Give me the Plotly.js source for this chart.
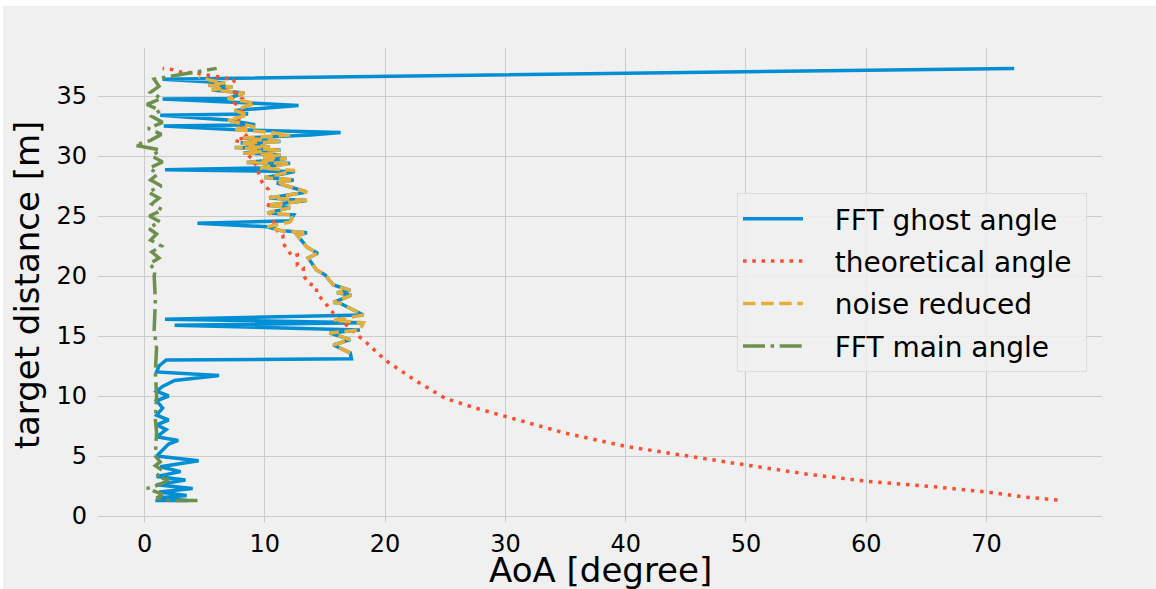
<!DOCTYPE html>
<html>
<head>
<meta charset="utf-8">
<script src="https://cdn.plot.ly/plotly-3.0.1.min.js"></script>
<style>html,body{margin:0;padding:0;background:#f0f0f0;}#chart{width:1156px;height:589px;}</style>
</head>
<body>
<div id="chart"></div>
<script>
// FFT ghost angle (distance [m], angle [deg])
const ghostDist = [1.3,1.3,1.5,1.7,2.0,2.3,2.6,3.0,3.3,3.7,4.1,4.6,5.0,5.5,6.0,6.3,6.6,7.2,7.6,8.0,8.4,9.0,9.6,10.0,10.4,10.8,11.3,11.7,12.0,12.5,13.0,13.1,
  13.6,14.25,14.7,15.25,15.5,15.9,16.1,16.4,16.75,17.75,17.8,18.4,18.6,18.8,19.25,20.1,20.5,21.5,21.9,22.4,23.4,23.6,23.8,24.1,24.4,24.6,25.1,25.25,25.7,25.9,26.3,26.5,27.0,27.75,28.0,28.2,28.7,28.85,29.0,29.4,29.45,29.8,29.9,30.1,30.25,30.5,30.7,30.75,31.1,31.2,31.5,31.75,31.95,32.2,32.5,32.6,33.0,33.4,33.5,33.8,34.2,34.4,34.75,34.8,35.25,35.5,35.75,35.9,36.1,36.4,37.3];
const ghostAngle = [0.9,3.6,1.0,3.5,1.2,4.0,1.0,3.4,1.0,3.0,1.3,4.5,1.0,1.5,2.0,2.8,1.0,1.8,1.0,2.0,1.0,1.5,1.0,2.0,1.0,1.5,2.5,6.2,1.0,1.2,1.8,17.2,
  17.1,15.7,17.1,15.4,17.9,2.5,18.2,1.7,18.2,16.2,15.7,17.2,16.0,17.1,15.7,15.0,14.3,13.6,14.4,13.5,12.7,13.5,11.3,10.2,4.4,12.1,12.4,10.2,12.1,10.2,13.5,10.4,13.5,11.0,12.4,10.0,12.5,1.7,9.6,12.1,8.5,11.8,9.9,11.3,8.2,11.3,7.5,10.4,8.0,11.3,8.2,13.8,16.3,7.3,1.6,9.2,6.9,1.3,8.6,7.5,12.8,9.2,1.5,6.9,8.3,5.6,7.3,5.3,6.7,1.5,72.3];

// theoretical angle
const theoDist = [1.33,1.6,2.0,2.4,2.9,3.5,4.25,5.0,5.8,6.9,8.25,9.0,9.8,11.3,13.0,14.0,14.4,14.9,15.9,16.9,17.4,18.0,18.6,19.1,19.4,20.1,20.7,20.9,21.75,21.6,22.2,22.75,23.4,23.6,24.9,25.75,26.3,26.75,27.2,27.75,28.8,29.4,29.7,30.1,30.9,31.3,31.6,31.9,32.4,33.0,33.6,34.1,34.4,34.8,35.1,35.3,35.7,36.3,36.5,36.6,36.75,36.9,37.0,37.2,37.3];
const theoAngle = [75.9,73,70,66,60,55,50,45,40,35,30,27.5,25,22.5,20,19,18.5,17.9,16.8,15.7,15.3,14.8,14.3,14.3,13.6,13.2,13.2,12.7,12.7,12.3,11.9,11.5,11.5,11.1,10.6,10.2,10.6,10.4,10.3,9.8,9.4,9.2,9.0,8.6,8.9,7.5,8.6,8.2,8.1,7.8,8.1,7.9,7.5,8.1,7.7,7.5,6.9,7.5,6.7,5.9,5.2,4.4,3.0,2.3,1.5];

// noise reduced
const noiseDist = [13.6,14.25,14.7,15.25,15.5,16.1,16.3,16.75,17.75,17.8,18.4,18.6,18.8,19.25,20.1,20.5,21.5,21.9,22.4,23.4,23.6,23.8,24.1,24.5,25.1,25.25,25.7,25.9,26.3,26.5,27.0,27.75,28.0,28.2,28.8,29.0,29.4,29.45,29.8,29.9,30.1,30.25,30.5,30.7,30.75,31.1,31.2,31.5,31.75,32.0,32.2,32.4,33.0,33.4,33.8,34.4,34.8,35.25,35.5,35.75,35.9,36.1,36.3,36.6];
const noiseAngle = [17.1,15.7,17.1,15.4,17.9,18.2,15.7,18.2,16.2,15.7,17.2,16.0,17.1,15.7,15.0,14.3,13.6,14.4,13.5,12.7,13.5,11.3,10.2,12.1,12.4,10.2,12.1,10.2,13.5,10.4,13.5,11.0,12.4,10.0,12.5,9.6,12.1,8.5,11.8,9.9,11.3,8.2,11.3,7.5,10.4,8.0,11.3,8.2,12.1,10.2,7.3,9.2,6.9,8.6,7.5,9.2,6.9,8.3,5.6,7.3,5.3,6.7,5.5,4.5];

// FFT main angle
const mainDist = [1.3,1.3,1.5,1.8,2.3,2.6,3.0,3.3,3.8,4.2,4.5,5.0,7.0,8.0,10.0,12.0,14.0,15.5,18.0,20.0,20.5,21.0,21.5,22.0,22.5,23.0,23.5,24.0,24.5,25.0,25.5,26.0,26.5,27.0,27.5,28.0,28.5,29.0,29.5,30.0,30.5,30.9,31.3,31.8,32.3,32.8,33.3,33.8,34.3,34.8,35.3,35.8,36.4,37.3];
const mainAngle = [4.4,2.0,1.0,1.5,0.2,1.2,2.0,1.0,1.5,0.9,1.3,0.9,1.0,0.9,1.0,0.9,1.0,0.8,0.9,0.8,0.9,0.4,1.2,0.6,1.4,0.5,1.0,0.3,1.3,0.4,1.5,0.6,1.2,0.3,1.4,0.5,1.1,0.4,1.5,0.6,1.3,-0.8,0.5,1.4,0.3,1.5,0.6,1.3,0.2,1.4,0.5,1.2,0.8,6.0];

const seriesNames = ['FFT ghost angle', 'theoretical angle', 'noise reduced', 'FFT main angle'];
const xTitle = 'AoA [degree]';
const yTitle = 'target distance [m]';

const font = 'DejaVu Sans, sans-serif';
const lw = 3.5;
const pad = '\u00a0\u00a0\u00a0';
const tail = '\u00a0';
const traces = [
  {x: ghostAngle, y: ghostDist, name: pad + seriesNames[0] + tail, legendgroup: 'a', mode: 'lines', line: {color: '#008fd5', width: lw}},
  {x: theoAngle, y: theoDist, name: pad + seriesNames[1] + tail, legendgroup: 'b', mode: 'lines', line: {color: '#fc4f30', width: lw, dash: '3.5px,5.8px'}},
  {x: noiseAngle, y: noiseDist, name: pad + seriesNames[2] + tail, legendgroup: 'c', mode: 'lines', line: {color: '#e5ae38', width: lw, dash: '12.5px,5.6px'}},
  {x: mainAngle, y: mainDist, name: pad + seriesNames[3] + tail, legendgroup: 'd', mode: 'lines', line: {color: '#6d904f', width: lw, dash: '22px,5.6px,3.5px,5.6px'}}
];

const L = 98, R = 1102, T = 48, B = 522;
const W = R - L, H = B - T;
const layout = {
  width: 1156, height: 589,
  margin: {l: L, r: 1156 - R, t: T, b: 589 - B},
  paper_bgcolor: '#f0f0f0', plot_bgcolor: '#f0f0f0',
  font: {family: font, color: '#000'},
  showlegend: true,
  xaxis: {
    range: [-3.87, 79.6], tickvals: [0,10,20,30,40,50,60,70], ticks: '',
    showgrid: true, gridcolor: '#cbcbcb', gridwidth: 1, zeroline: false, showline: false,
    tickfont: {family: font, size: 24, color: '#000'}, ticklabelstandoff: 5,
    automargin: false
  },
  yaxis: {
    range: [-0.5, 39.0], tickvals: [0,5,10,15,20,25,30,35], ticks: '',
    showgrid: true, gridcolor: '#cbcbcb', gridwidth: 1, zeroline: false, showline: false,
    tickfont: {family: font, size: 24, color: '#000'}, ticklabelstandoff: 10,
    automargin: false,
    title: {text: yTitle, font: {family: font, size: 34, color: '#000'}, standoff: 6}
  },
  annotations: [
    {text: xTitle, xref: 'paper', yref: 'paper', x: 0.5, y: (B - 570) / H, xanchor: 'center', yanchor: 'middle',
     showarrow: false, font: {family: font, size: 34, color: '#000'}}
  ],
  legend: {
    x: (737 - L) / W, y: (B - 193) / H, xanchor: 'left', yanchor: 'top',
    bgcolor: 'rgba(240,240,240,0.85)', bordercolor: '#dcdcdc', borderwidth: 1,
    font: {family: font, size: 28, color: '#000'},
    tracegroupgap: 3, itemwidth: 60
  },
  shapes: [
    {type: 'rect', xref: 'paper', yref: 'paper', layer: 'above', line: {width: 0}, fillcolor: '#ffffff',
     x0: (0 - L) / W, x1: (1156 - L) / W, y0: (B - 6) / H, y1: (B - 0) / H},
    {type: 'rect', xref: 'paper', yref: 'paper', layer: 'above', line: {width: 0}, fillcolor: '#ffffff',
     x0: (0 - L) / W, x1: (3 - L) / W, y0: (B - 589) / H, y1: (B - 0) / H}
  ]
};
Plotly.newPlot('chart', traces, layout, {displayModeBar: false, responsive: false});
</script>
</body>
</html>
